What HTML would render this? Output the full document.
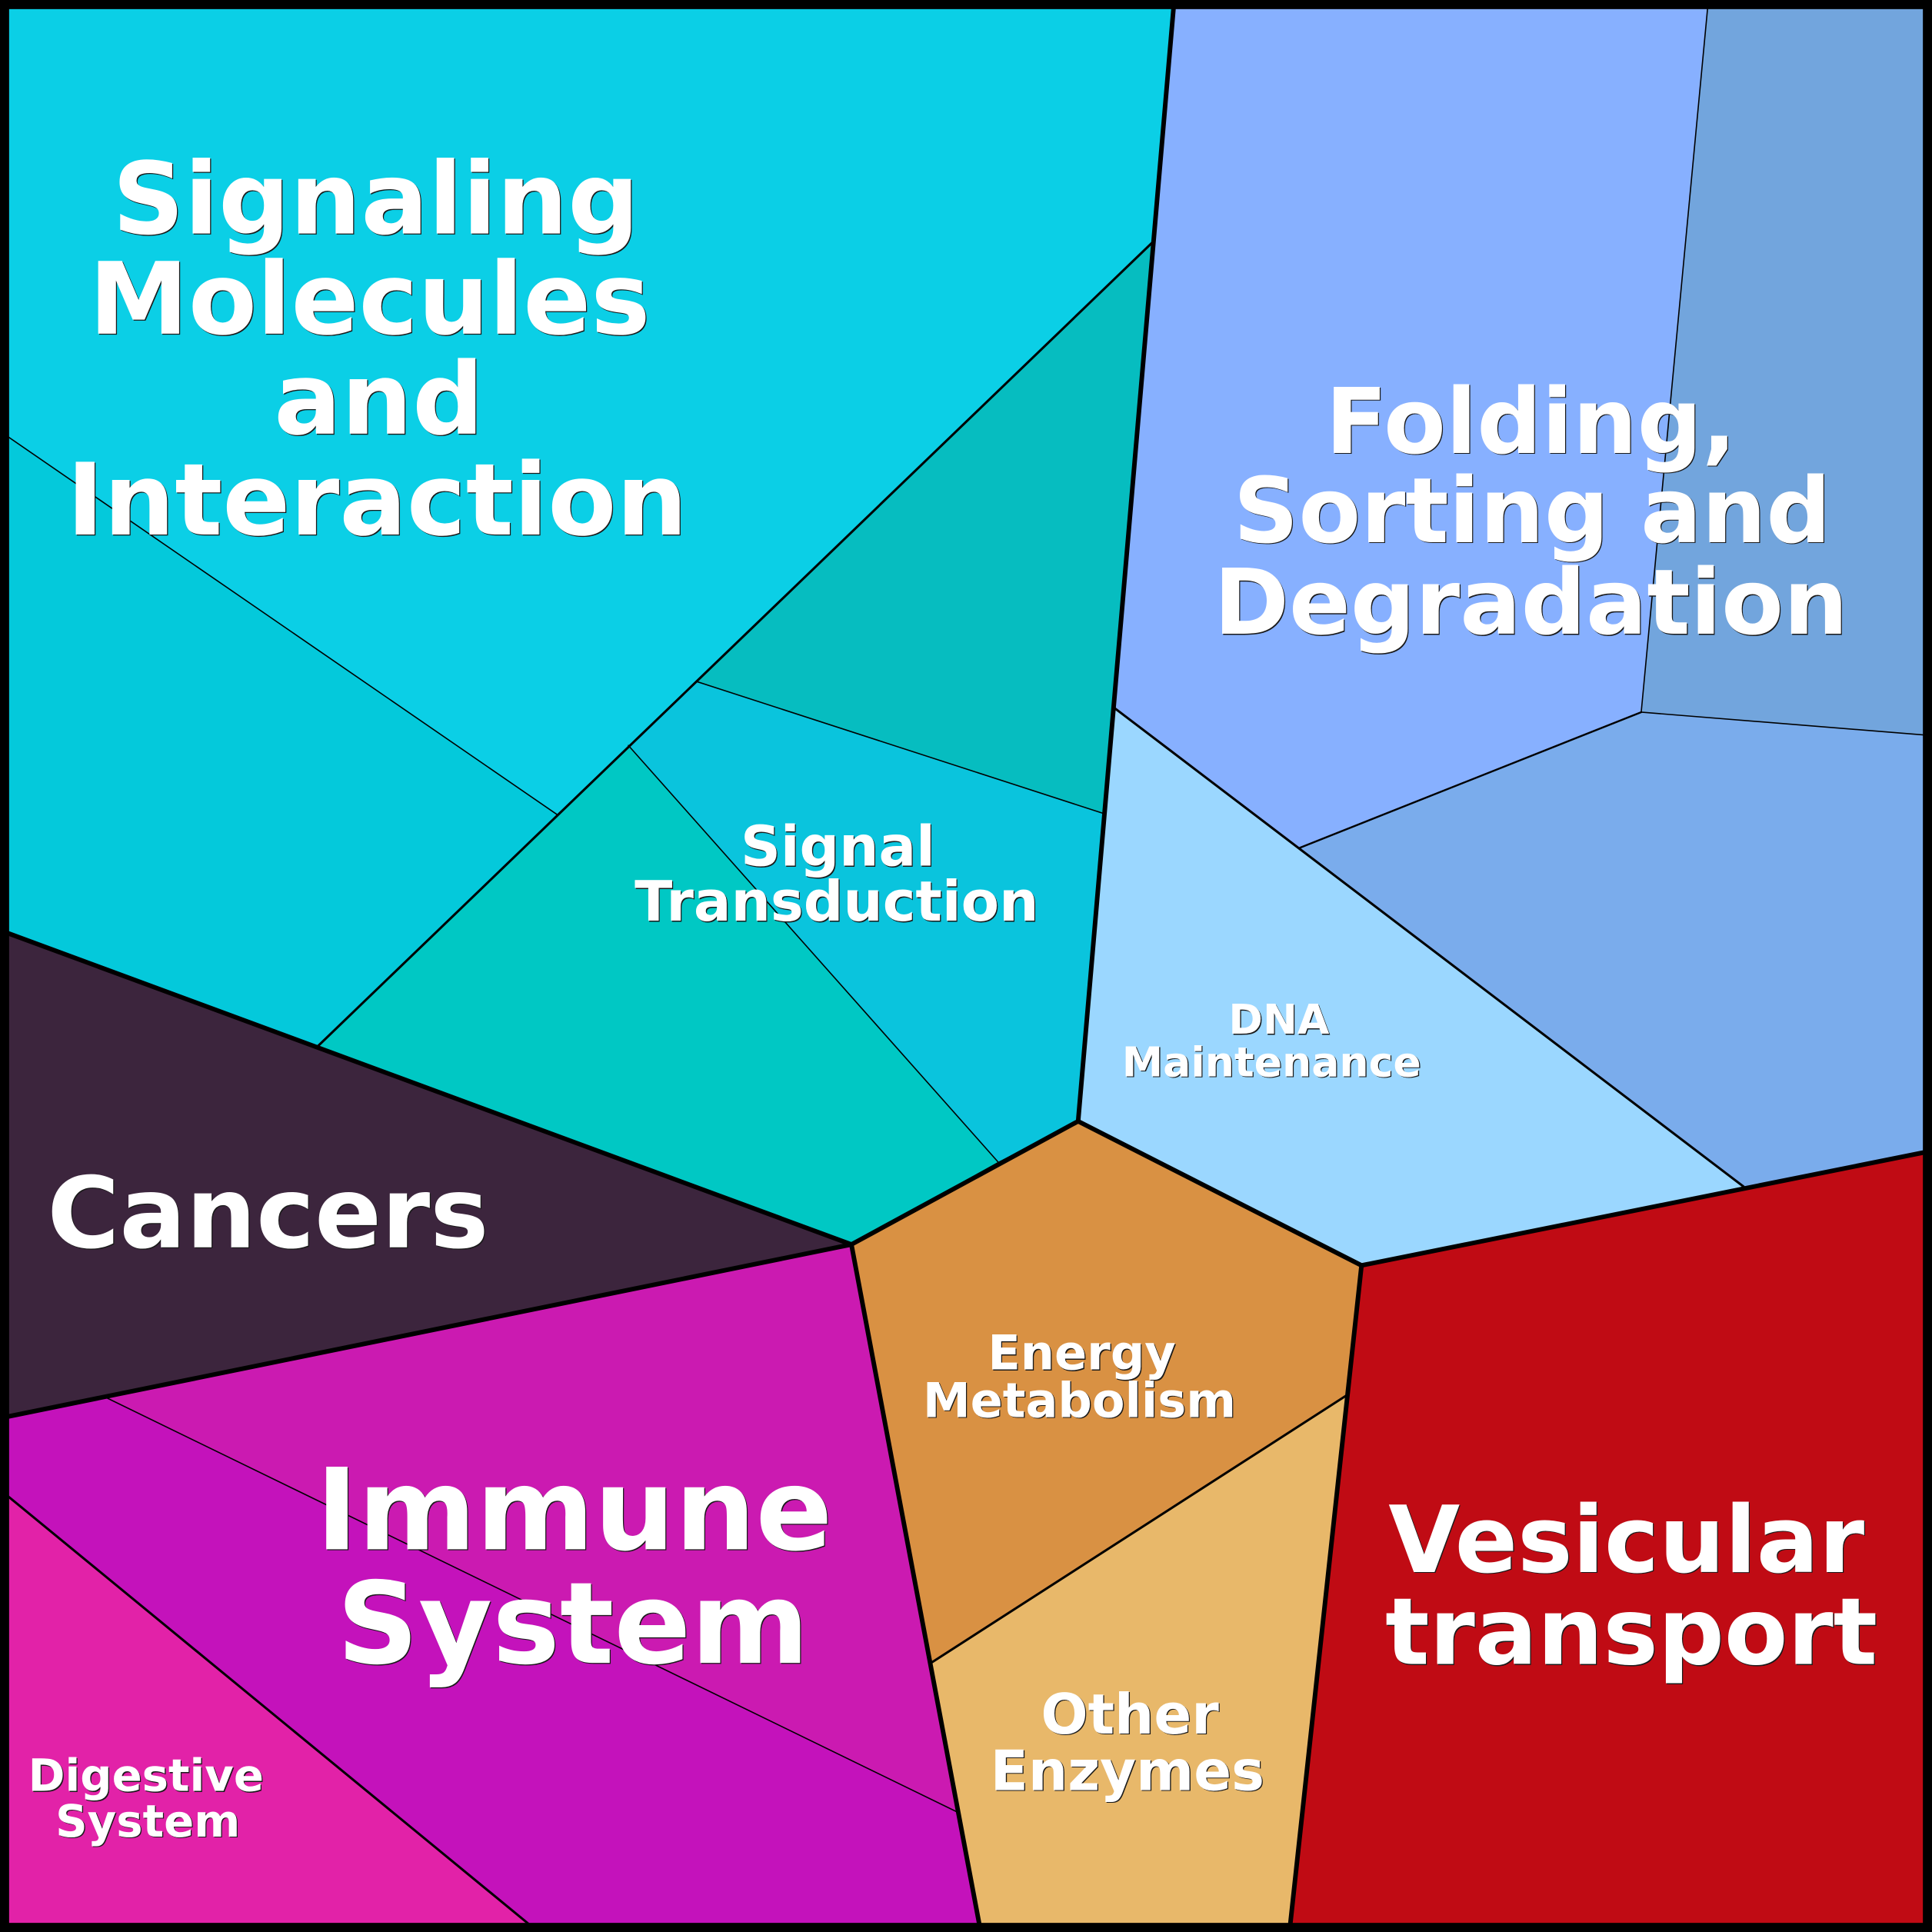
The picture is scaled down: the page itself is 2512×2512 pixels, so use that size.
<!DOCTYPE html>
<html>
<head>
<meta charset="utf-8">
<style>
  html, body { margin: 0; padding: 0; background: #000; }
  body { width: 2512px; height: 2512px; overflow: hidden; }
  svg { display: block; }
  text { font-family: "DejaVu Sans", "Liberation Sans", sans-serif; font-weight: bold; text-anchor: middle; }
  .sh { fill: #1a1a1a; }
  .fg { fill: #ffffff; }
</style>
</head>
<body>
<svg xmlns="http://www.w3.org/2000/svg" width="2512" height="2512" viewBox="0 0 1568 1568">
  <!-- cell fills -->
  <polygon fill="#0bcfe6" points="0,0 953,0 935,197 452,661 0,350"/>
  <polygon fill="#04c9db" points="0,350 452,661 257,850 0,755"/>
  <polygon fill="#06bdc0" points="935,197 895,660 565,553"/>
  <polygon fill="#0ac4dd" points="565,553 895,660 875,910 810,943 510,605"/>
  <polygon fill="#00c8c4" points="510,605 810,943 691,1010 257,850"/>
  <polygon fill="#87b0ff" points="953,0 1386.5,0 1332,578 1055,688 905,575 935,197"/>
  <polygon fill="#72a5dd" points="1386.5,0 1568,0 1568,597 1332,578"/>
  <polygon fill="#7aacec" points="1332,578 1568,597 1568,934 1415,963 1055,688"/>
  <polygon fill="#9bd7ff" points="905,575 1055,688 1415,963 1105,1027 875,910"/>
  <polygon fill="#d99143" points="691,1010 875,910 1105,1027 1093.6,1132 755,1350"/>
  <polygon fill="#e8b86a" points="755,1350 1093.6,1132 1046.5,1568 796,1568"/>
  <polygon fill="#c00b14" points="1105,1027 1568,934 1568,1568 1046.5,1568"/>
  <polygon fill="#3c253d" points="0,755 691,1010 0,1151"/>
  <polygon fill="#cb1ab1" points="85,1133.7 691,1010 777.7,1471"/>
  <polygon fill="#c412bb" points="0,1151 85,1133.7 777.7,1471 796,1568 437,1568 0,1209"/>
  <polygon fill="#e222a8" points="0,1209 437,1568 0,1568"/>

  <!-- thin lines -->
  <g stroke="#000" stroke-width="1" fill="none" stroke-linecap="round">
    <line x1="0" y1="350" x2="452" y2="661"/>
    <line x1="565" y1="553" x2="895" y2="660"/>
    <line x1="510" y1="605" x2="810" y2="943"/>
    <line x1="1386.5" y1="0" x2="1332" y2="578"/>
    <line x1="1332" y1="578" x2="1568" y2="597"/>
    <line x1="85" y1="1133.7" x2="777.7" y2="1471"/>
  </g>
  <!-- medium lines -->
  <g stroke="#000" stroke-width="1.9" fill="none" stroke-linecap="round">
    <line x1="935" y1="197" x2="257" y2="850"/>
    <line x1="905" y1="575" x2="1415" y2="963"/>
    <line x1="1055" y1="688" x2="1332" y2="578" stroke-width="1.5"/>
    <line x1="0" y1="1209" x2="437" y2="1568"/>
    <line x1="755" y1="1350" x2="1093.6" y2="1132"/>
  </g>
  <!-- thick lines -->
  <g stroke="#000" stroke-width="3.7" fill="none" stroke-linecap="round" stroke-linejoin="round">
    <polyline points="953,0 875,910 691,1010 0,755"/>
    <polyline points="875,910 1105,1027 1568,934"/>
    <line x1="1105" y1="1027" x2="1046.5" y2="1568"/>
    <line x1="691" y1="1010" x2="796" y2="1568"/>
    <line x1="0" y1="1151" x2="691" y2="1010"/>
  </g>
  <!-- frame -->
  <rect x="3.7" y="3.7" width="1560.6" height="1560.6" fill="none" stroke="#000" stroke-width="7.4"/>

  <!-- labels: shadow -->
  <g class="sh" transform="translate(0.8,0.8)">
    <text font-size="81" x="305" y="189.5">Signaling</text>
    <text font-size="81" x="300" y="270.8">Molecules</text>
    <text font-size="81" x="307.5" y="352">and</text>
    <text font-size="81" x="306" y="433.8">Interaction</text>

    <text font-size="73.5" x="1242.5" y="367.5">Folding,</text>
    <text font-size="73.5" x="1243.5" y="440">Sorting and</text>
    <text font-size="73.5" x="1242.5" y="514.4">Degradation</text>

    <text font-size="45" x="680" y="702.6">Signal</text>
    <text font-size="45" x="679" y="747.2">Transduction</text>

    <text font-size="33.5" x="1038" y="839">DNA</text>
    <text font-size="33.5" x="1032" y="873.5">Maintenance</text>

    <text font-size="80" x="217.5" y="1012.3">Cancers</text>

    <text font-size="38.8" x="878" y="1111.4">Energy</text>
    <text font-size="38.8" x="876" y="1150">Metabolism</text>

    <text font-size="92" x="466" y="1257.4">Immune</text>
    <text font-size="92" x="465" y="1349.6">System</text>

    <text font-size="75" x="1320" y="1275.8">Vesicular</text>
    <text font-size="75" x="1324" y="1350.5">transport</text>

    <text font-size="45" x="917" y="1406.8">Other</text>
    <text font-size="45" x="915" y="1452.7">Enzymes</text>

    <text font-size="36" x="118.5" y="1453.6">Digestive</text>
    <text font-size="36" x="120" y="1490.5">System</text>
  </g>
  <!-- labels: foreground -->
  <g class="fg">
    <text font-size="81" x="305" y="189.5">Signaling</text>
    <text font-size="81" x="300" y="270.8">Molecules</text>
    <text font-size="81" x="307.5" y="352">and</text>
    <text font-size="81" x="306" y="433.8">Interaction</text>

    <text font-size="73.5" x="1242.5" y="367.5">Folding,</text>
    <text font-size="73.5" x="1243.5" y="440">Sorting and</text>
    <text font-size="73.5" x="1242.5" y="514.4">Degradation</text>

    <text font-size="45" x="680" y="702.6">Signal</text>
    <text font-size="45" x="679" y="747.2">Transduction</text>

    <text font-size="33.5" x="1038" y="839">DNA</text>
    <text font-size="33.5" x="1032" y="873.5">Maintenance</text>

    <text font-size="80" x="217.5" y="1012.3">Cancers</text>

    <text font-size="38.8" x="878" y="1111.4">Energy</text>
    <text font-size="38.8" x="876" y="1150">Metabolism</text>

    <text font-size="92" x="466" y="1257.4">Immune</text>
    <text font-size="92" x="465" y="1349.6">System</text>

    <text font-size="75" x="1320" y="1275.8">Vesicular</text>
    <text font-size="75" x="1324" y="1350.5">transport</text>

    <text font-size="45" x="917" y="1406.8">Other</text>
    <text font-size="45" x="915" y="1452.7">Enzymes</text>

    <text font-size="36" x="118.5" y="1453.6">Digestive</text>
    <text font-size="36" x="120" y="1490.5">System</text>
  </g>
</svg>
</body>
</html>
